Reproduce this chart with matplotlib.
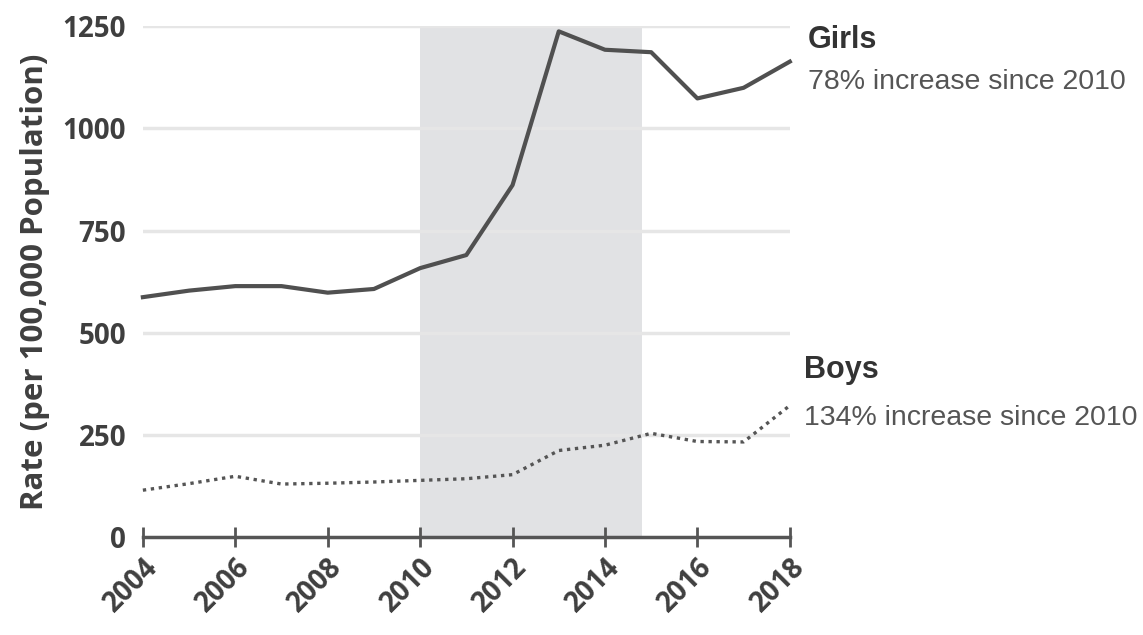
import matplotlib
matplotlib.use("Agg")
import matplotlib.pyplot as plt

# data
years = [2004, 2005, 2006, 2007, 2008, 2009, 2010, 2011,
         2012, 2013, 2014, 2015, 2016, 2017, 2018]
girls = [587, 603, 614, 614, 598, 607, 658, 690,
         861, 1237, 1192, 1186, 1073, 1099, 1163]
boys = [115, 131, 149, 130, 132, 135, 139, 143,
        153, 212, 225, 254, 234, 233, 322]
tick_years = [2004, 2006, 2008, 2010, 2012, 2014, 2016, 2018]
y_ticks = [0, 250, 500, 750, 1000, 1250]
shade_start, shade_end = 2010, 2014.8

dark = "#3f3f3f"
plt.rcParams["font.family"] = ["Open Sans", "DejaVu Sans"]

fig = plt.figure(figsize=(11.43, 6.35), dpi=100)
ax = fig.add_axes([0.125, 0.154, 0.566, 0.805])

ax.axvspan(shade_start, shade_end, color="#e1e2e4", zorder=0, lw=0)
for v in y_ticks[1:]:
    ax.axhline(v, color="#e6e6e6", lw=2.5, zorder=0.5)

ax.plot(years, girls, color="#505050", lw=3, solid_joinstyle="round",
        zorder=3, clip_on=False)
ax.plot(years, boys, color="#555555", lw=2.4, linestyle=(0, (1, 1.4)),
        zorder=3, clip_on=False)

ax.set_xlim(2004, 2018)
ax.set_ylim(0, 1250)
ax.set_xticks(tick_years)
ax.set_yticks(y_ticks)
ax.set_xticklabels([str(t) for t in tick_years], rotation=45,
                   ha="right", rotation_mode="anchor",
                   fontsize=20, fontweight="bold", color=dark)
ax.set_yticklabels([str(t) for t in y_ticks], fontsize=20,
                   fontweight="bold", color=dark)

for s in ["top", "right", "left"]:
    ax.spines[s].set_visible(False)
ax.spines["bottom"].set_color("#555555")
ax.spines["bottom"].set_linewidth(2.5)
ax.spines["bottom"].set_zorder(4)
ax.tick_params(axis="x", direction="inout", length=14, width=2,
               color="#555555", pad=4)
ax.tick_params(axis="y", length=0, pad=12)
ax.set_ylabel("Rate (per 100,000 Population)", fontsize=22.5,
              fontweight="bold", color=dark)
ax.yaxis.set_label_coords(-0.143, 0.5)

lab = ["Liberation Sans", "DejaVu Sans"]
fig.text(0.707, 0.937, "Girls", fontsize=22, fontweight="bold",
         color="#333333", family=lab, va="center")
fig.text(0.707, 0.871, "78% increase since 2010", fontsize=20.5,
         color="#555555", family=lab, va="center")
fig.text(0.703, 0.417, "Boys", fontsize=22, fontweight="bold",
         color="#333333", family=lab, va="center")
fig.text(0.703, 0.342, "134% increase since 2010", fontsize=20.5,
         color="#555555", family=lab, va="center")

fig.savefig("out.png", dpi=100)
